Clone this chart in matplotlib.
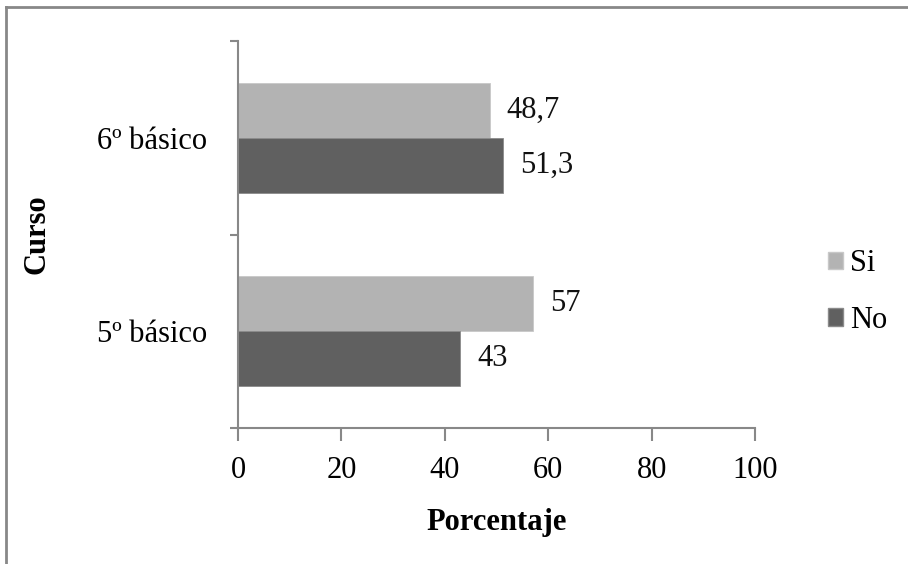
import matplotlib
matplotlib.use("Agg")
import matplotlib.pyplot as plt
from matplotlib.lines import Line2D
from matplotlib.patches import Patch
import numpy as np

categories = ["5º básico", "6º básico"]
si_values = [57, 48.7]
no_values = [43, 51.3]
si_labels = ["57", "48,7"]
no_labels = ["43", "51,3"]
x_ticks = [0, 20, 40, 60, 80, 100]

plt.rcParams['font.family'] = ['Liberation Serif', 'DejaVu Serif']
FS = 22

fig = plt.figure(figsize=(9.08, 5.64), dpi=100)
ax = fig.add_axes([238/908, 1-428/564, (755-238)/908, (428-41)/564])

spine_c = '#888888'
si_c = '#b3b3b3'
no_c = '#606060'
h = 0.284
y = np.arange(len(categories))
ax.barh(y + h/2, si_values, height=h, color=si_c, edgecolor='#c8c8c8', linewidth=0.6, label='Si')
ax.barh(y - h/2, no_values, height=h, color=no_c, edgecolor='#8a8a8a', linewidth=0.6, label='No')

for yi, v, t in zip(y, si_values, si_labels):
    ax.annotate(t, (v, yi + h/2), xytext=(17, 0), textcoords='offset pixels',
                va='center', ha='left', fontsize=FS, color='#111111')
for yi, v, t in zip(y, no_values, no_labels):
    ax.annotate(t, (v, yi - h/2), xytext=(17, 0), textcoords='offset pixels',
                va='center', ha='left', fontsize=FS, color='#111111')

ax.set_xlim(0, 100)
ax.set_ylim(-0.5, 1.5)
ax.set_xticks(x_ticks)
ax.set_xticklabels([str(t) for t in x_ticks], fontsize=FS)
ax.set_yticks([-0.5, 0.5, 1.5])
ax.set_yticklabels([])
ax.set_yticks(y, minor=True)
ax.set_yticklabels(categories, minor=True, fontsize=FS)
ax.tick_params(axis='y', which='minor', length=0, pad=22)
ax.tick_params(axis='y', which='major', length=6, color=spine_c, width=1.5)
ax.tick_params(axis='x', length=9, color=spine_c, width=1.5, pad=11, direction='out')

for s in ['top', 'right']:
    ax.spines[s].set_visible(False)
for s in ['left', 'bottom']:
    ax.spines[s].set_color(spine_c)
    ax.spines[s].set_linewidth(1.5)

ax.set_xlabel('Porcentaje', fontsize=FS, fontweight='bold', labelpad=17)
ax.set_ylabel('Curso', fontsize=FS, fontweight='bold', labelpad=33)

handles = [Patch(facecolor=si_c, edgecolor='#c8c8c8', label='Si'),
           Patch(facecolor=no_c, edgecolor='#8a8a8a', label='No')]
fig.legend(handles=handles, loc='center left', bbox_to_anchor=(800/908, 1-292/564),
           frameon=False, fontsize=FS, handlelength=0.5, handleheight=0.5,
           handletextpad=0.25, labelspacing=0.9)

fig.add_artist(Line2D([6/908, 1], [1-7/564, 1-7/564], color='#888888', lw=2, transform=fig.transFigure))
fig.add_artist(Line2D([6/908, 6/908], [0, 1-7/564], color='#888888', lw=2, transform=fig.transFigure))

fig.savefig('out.png', dpi=100)
